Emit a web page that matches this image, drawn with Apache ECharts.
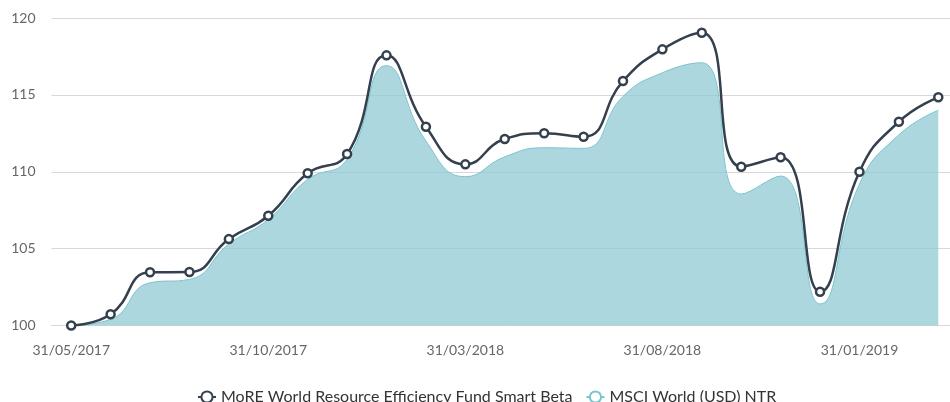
<!DOCTYPE html>
<html>
<head>
<meta charset="utf-8">
<script src="https://cdn.jsdelivr.net/npm/echarts@6/dist/echarts.min.js"></script>
<style>
  html, body { margin: 0; padding: 0; background: #fff; overflow: hidden; }
  #chart { width: 958px; height: 402px; }
</style>
</head>
<body>
<div id="chart"></div>
<script>
// month ends, May 2017 .. Mar 2019
var dates = ['31/05/2017', '30/06/2017', '31/07/2017', '31/08/2017', '30/09/2017', '31/10/2017',
  '30/11/2017', '31/12/2017', '31/01/2018', '28/02/2018', '31/03/2018', '30/04/2018',
  '31/05/2018', '30/06/2018', '31/07/2018', '31/08/2018', '30/09/2018', '31/10/2018',
  '30/11/2018', '31/12/2018', '31/01/2019', '28/02/2019', '31/03/2019'];

var fundName = 'MoRE World Resource Efficiency Fund Smart Beta';
var fund = [100, 100.73, 103.46, 103.48, 105.62, 107.14, 109.9, 111.15, 117.57, 112.93, 110.48, 112.13,
  112.5, 112.28, 115.9, 117.96, 119.04, 110.33, 110.94, 102.2, 110.0, 113.25, 114.84];

var msciName = 'MSCI World (USD) NTR';
var msci = [100, 100.4, 102.78, 103.0, 105.3, 106.9, 109.5, 110.8, 116.9, 112.0, 109.68, 110.97,
  111.56, 111.52, 114.9, 116.44, 117.09, 108.55, 109.72, 101.4, 109.2, 112.4, 114.0];

var yTicks = [100, 105, 110, 115, 120];

var chart = echarts.init(document.getElementById('chart'));
var option = {
  animation: false,
  textStyle: { fontFamily: 'Lato' },
  // canvas is a bit wider than the window so the last category half-band is cut off
  grid: { left: 51.5, right: 0, top: 18, bottom: 76.5 },
  legend: {
    top: 384,
    left: 192,
    itemGap: 13,
    itemWidth: 18,
    textStyle: { fontFamily: 'Lato', fontSize: 16, color: '#333' },
    data: [fundName, msciName]
  },
  xAxis: {
    type: 'category',
    data: dates,
    boundaryGap: true,
    axisLine: { lineStyle: { color: '#d8d8d8' } },
    axisTick: { interval: 4, alignWithLabel: true, length: 6, lineStyle: { color: '#999' } },
    axisLabel: { interval: 4, color: '#666', fontSize: 14, margin: 18 }
  },
  yAxis: {
    type: 'value',
    min: yTicks[0],
    max: yTicks[yTicks.length - 1],
    interval: 5,
    axisLine: { show: false },
    axisTick: { show: false },
    axisLabel: { color: '#666', fontSize: 14, margin: 16 },
    splitLine: { lineStyle: { color: '#d8d8d8' } }
  },
  series: [
    {
      name: msciName,
      type: 'line',
      data: msci,
      smooth: true,
      symbol: 'emptyCircle',
      showSymbol: false,
      symbolSize: 7,
      lineStyle: { color: '#7cc4ce', width: 1 },
      itemStyle: { color: '#7cc4ce' },
      areaStyle: { color: 'rgb(144,202,211)', opacity: 0.75 },
      z: 2
    },
    {
      name: fundName,
      type: 'line',
      data: fund,
      smooth: true,
      symbol: 'circle',
      symbolSize: 8,
      lineStyle: { color: '#34404e', width: 2.5 },
      itemStyle: { color: '#fff', borderColor: '#34404e', borderWidth: 2.5 },
      z: 3
    }
  ]
};
chart.setOption(option);
</script>
</body>
</html>
